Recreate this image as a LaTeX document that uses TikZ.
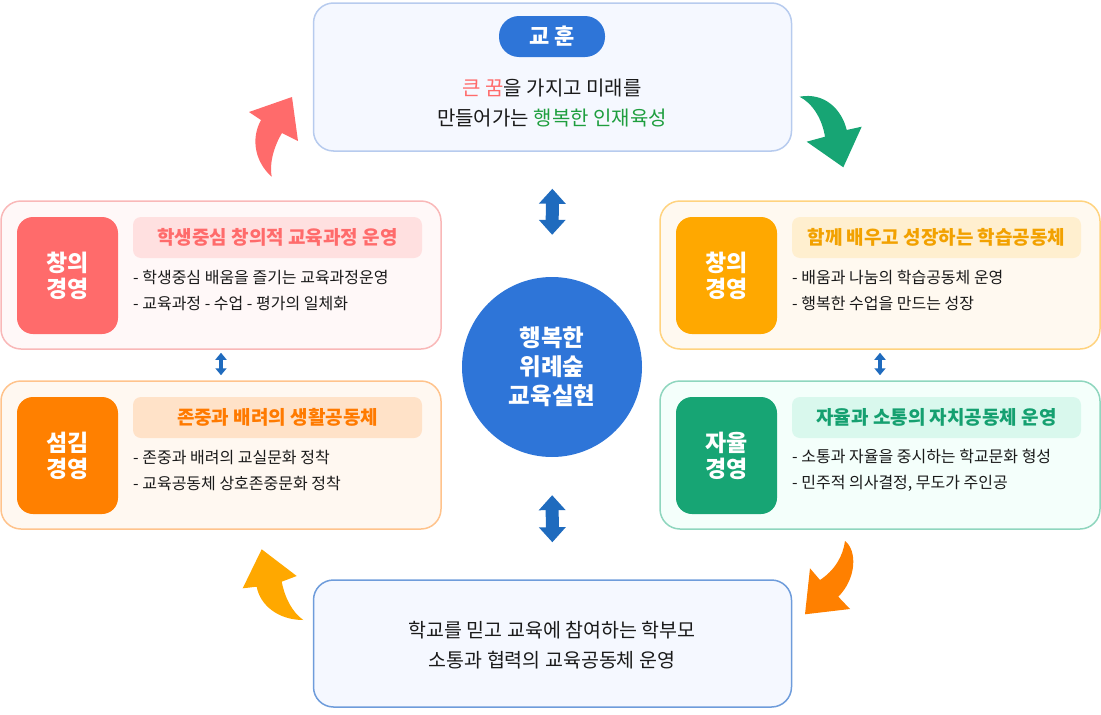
\documentclass[tikz,border=0pt]{standalone}
\usepackage{fontspec}
\setmainfont{Noto Sans CJK KR}
\usetikzlibrary{arrows.meta}

\definecolor{coreblue}{HTML}{2E75D8}
\definecolor{linkblue}{HTML}{1F6BBE}
\definecolor{lessonline}{HTML}{B7CBEE}
\definecolor{lessonfill}{HTML}{F5F8FF}
\definecolor{parentline}{HTML}{6E9CDB}
\definecolor{bodytext}{HTML}{1A1A1A}
\definecolor{mottored}{HTML}{FF6B6B}
\definecolor{mottogreen}{HTML}{1E9E3E}
% creative (red)
\definecolor{redline}{HTML}{F9B8B8}
\definecolor{redfill}{HTML}{FFF8F8}
\definecolor{redmain}{HTML}{FF6B6B}
\definecolor{redhead}{HTML}{FFE0E0}
% learning (gold)
\definecolor{goldline}{HTML}{FFD37F}
\definecolor{goldfill}{HTML}{FFF9F0}
\definecolor{goldmain}{HTML}{FFA800}
\definecolor{goldhead}{HTML}{FFEFCF}
\definecolor{goldtext}{HTML}{F2A100}
% serving (orange)
\definecolor{orangeline}{HTML}{FFC38C}
\definecolor{orangefill}{HTML}{FFF8F1}
\definecolor{orangemain}{HTML}{FF8000}
\definecolor{orangehead}{HTML}{FFE2C8}
\definecolor{orangetext}{HTML}{FF7A00}
% autonomy (green)
\definecolor{greenline}{HTML}{8FD6BE}
\definecolor{greenfill}{HTML}{F4FFFB}
\definecolor{greenmain}{HTML}{17A574}
\definecolor{greenhead}{HTML}{D9F8ED}
\definecolor{greentext}{HTML}{15A070}

\begin{document}
\begin{tikzpicture}[x=1pt, y=-1pt,
    panel/.style={draw, line width=1.5pt, rounded corners=20pt, inner sep=0pt,
        minimum width=440pt, minimum height=148pt},
    badge/.style={rounded corners=16pt, inner sep=0pt, minimum width=101pt,
        minimum height=117pt, text=white, align=center,
        font=\bfseries\fontsize{23}{26}\selectfont},
    headline/.style={rounded corners=8pt, inner sep=0pt, minimum width=289pt,
        minimum height=41pt, font=\bfseries\fontsize{19}{22}\selectfont},
    points/.style={anchor=west, align=left, inner sep=0pt, text=bodytext,
        font=\fontsize{16}{26}\selectfont},
    link/.style={draw=linkblue, line width=13pt,
        {Triangle[length=15pt,width=26pt]}-{Triangle[length=15pt,width=26pt]}},
    smalllink/.style={draw=linkblue, line width=4pt,
        {Triangle[length=7pt,width=11pt]}-{Triangle[length=7pt,width=11pt]}}
]
    \useasboundingbox (0,0) rectangle (1101,715);

    % Lesson box (top)
    \node[panel, draw=lessonline, fill=lessonfill, minimum width=478pt] (lesson) at (552.5,77) {};
    \node[fill=coreblue, rounded corners=20pt, inner sep=0pt, minimum width=106pt,
        minimum height=41pt, text=white, font=\bfseries\fontsize{22}{24}\selectfont]
        (lessontag) at (552,36.5) {교 훈};
    \node[align=center, text=bodytext, font=\fontsize{20}{30}\selectfont] (motto) at (552,103)
        {\textcolor{mottored}{큰 꿈}을 가지고 미래를\\만들어가는 \textcolor{mottogreen}{행복한 인재육성}};

    % Center circle
    \node[circle, fill=coreblue, minimum size=180pt, inner sep=0pt, text=white, align=center,
        font=\bfseries\fontsize{23.5}{29}\selectfont] (core) at (552,367) {행복한\\위례숲\\교육실현};

    % Creative management (top left)
    \node[panel, draw=redline, fill=redfill] (creative) at (221,275) {};
    \node[badge, fill=redmain] (creativebadge) at (67.5,275.5) {창의\\경영};
    \node[headline, fill=redhead, text=redmain] (creativehead) at (277.5,237.5) {학생중심 창의적 교육과정 운영};
    \node[points] (creativepoints) at (133,290)
        {- 학생중심 배움을 즐기는 교육과정운영\\- 교육과정 - 수업 - 평가의 일체화};

    % Learning community (top right)
    \node[panel, draw=goldline, fill=goldfill] (learning) at (880,275) {};
    \node[badge, fill=goldmain] (learningbadge) at (726.5,275.5) {창의\\경영};
    \node[headline, fill=goldhead, text=goldtext] (learninghead) at (936.5,237.5) {함께 배우고 성장하는 학습공동체};
    \node[points] (learningpoints) at (792,290)
        {- 배움과 나눔의 학습공동체 운영\\- 행복한 수업을 만드는 성장};

    % Serving management (bottom left)
    \node[panel, draw=orangeline, fill=orangefill] (serving) at (221,455) {};
    \node[badge, fill=orangemain] (servingbadge) at (67.5,455.5) {섬김\\경영};
    \node[headline, fill=orangehead, text=orangetext] (servinghead) at (277.5,417.5) {존중과 배려의 생활공동체};
    \node[points] (servingpoints) at (133,470)
        {- 존중과 배려의 교실문화 정착\\- 교육공동체 상호존중문화 정착};

    % Autonomy management (bottom right)
    \node[panel, draw=greenline, fill=greenfill] (autonomy) at (880,455) {};
    \node[badge, fill=greenmain] (autonomybadge) at (726.5,455.5) {자율\\경영};
    \node[headline, fill=greenhead, text=greentext] (autonomyhead) at (936.5,417.5) {자율과 소통의 자치공동체 운영};
    \node[points] (autonomypoints) at (792,470)
        {- 소통과 자율을 중시하는 학교문화 형성\\- 민주적 의사결정, 무도가 주인공};

    % Parents box (bottom)
    \node[panel, draw=parentline, fill=lessonfill, minimum width=478pt, minimum height=127pt] (parents) at (552.5,643.5) {};
    \node[align=center, text=bodytext, font=\fontsize{19.5}{30}\selectfont] (parentsnote) at (552,645)
        {학교를 믿고 교육에 참여하는 학부모\\소통과 협력의 교육공동체 운영};

    % Double arrows
    \draw[link, shorten <=37pt, shorten >=42pt] (lesson.south) -- (core.north);
    \draw[link, shorten <=38pt, shorten >=37pt] (core.south) -- (parents.north);
    \draw[smalllink, shorten <=3pt, shorten >=5pt] (creative.south) -- (serving.north);
    \draw[smalllink, shorten <=3pt, shorten >=5pt] (learning.south) -- (autonomy.north);

    % Curved arrows round the cycle
    \fill[redmain] (271.7,176.7) .. controls (256,163) and (250,140) .. (261,120)
        -- (249,112) -- (292,97) -- (298,141) -- (282,133)
        .. controls (274,146) and (269,164) .. cycle;
    \fill[greenmain] (799.5,96.7) .. controls (825,92) and (842,110) .. (846.7,130)
        -- (861.7,126.7) -- (843.3,167.3) -- (806.7,141.7) -- (825,136.7)
        .. controls (822,118) and (812,103) .. cycle;
    \fill[orangemain] (845,541) .. controls (857,550) and (857,578) .. (838.3,596.7)
        -- (850,609) -- (805,614.3) -- (810,568.3) -- (820,580)
        .. controls (835,570) and (843,556) .. cycle;
    \fill[goldmain] (303.3,620) .. controls (278,620) and (260,605) .. (256.7,586.7)
        -- (242.7,588.3) -- (261.7,549.3) -- (296.7,576) -- (281.7,581.7)
        .. controls (285,598) and (292,612) .. cycle;

\end{tikzpicture}
\end{document}
